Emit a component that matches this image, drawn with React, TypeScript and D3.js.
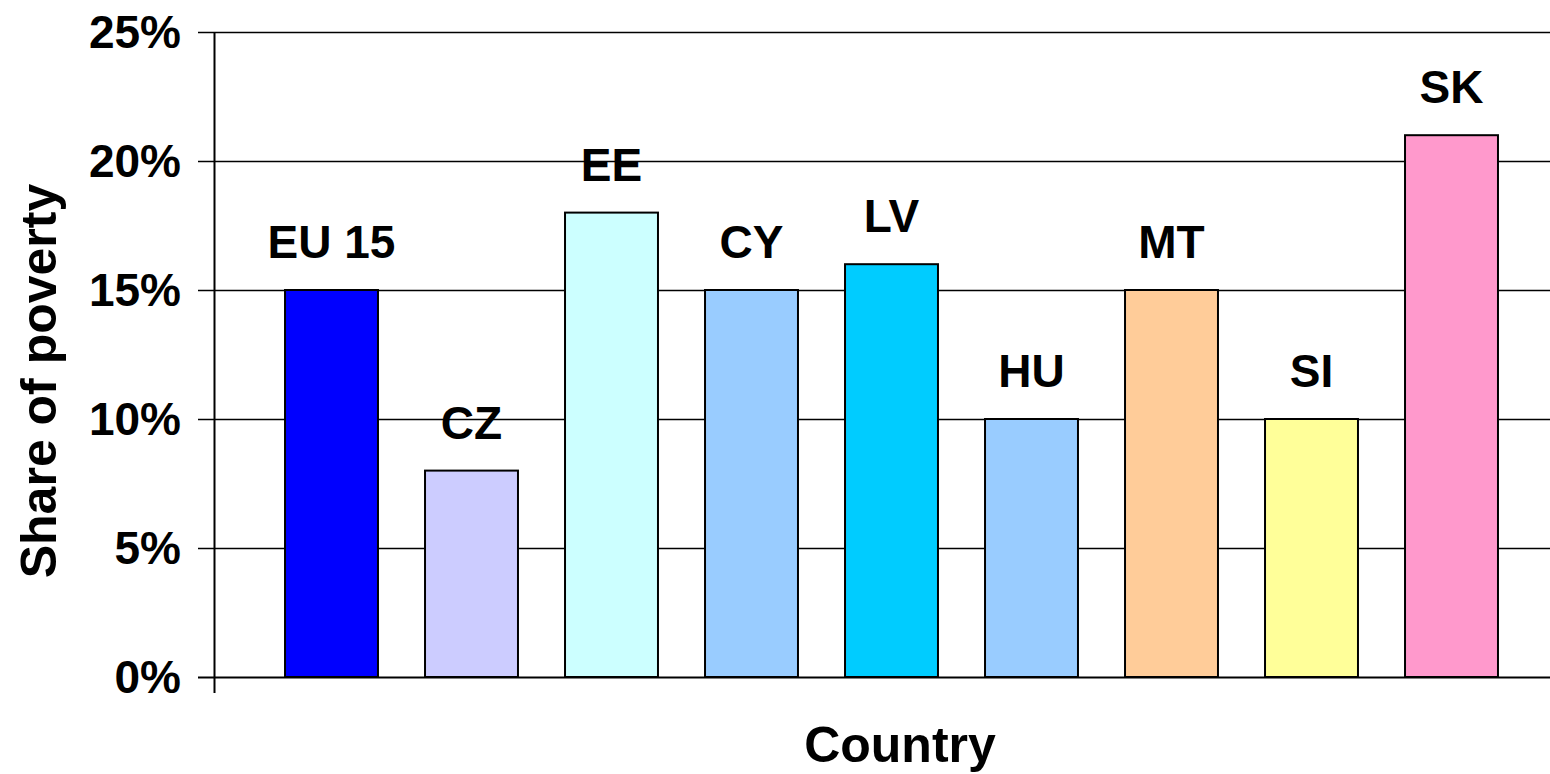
import React from "react";
import * as d3 from "d3";

const countries = ["EU 15", "CZ", "EE", "CY", "LV", "HU", "MT", "SI", "SK"];
const shares = [15, 8, 18, 15, 16, 10, 15, 10, 21];
const colors = ["#0000FF", "#CCCCFF", "#CCFFFF", "#99CCFF", "#00CCFF", "#99CCFF", "#FFCC99", "#FFFF99", "#FF99CC"];
const yTicks = [0, 5, 10, 15, 20, 25];

const W = 1550;
const H = 774;
const FONT = "'Liberation Sans', Arial, sans-serif";

export default function App() {
  const plotLeft = 214.5;
  const y = d3.scaleLinear().domain([0, 25]).range([677, 32]);
  const x = d3
    .scaleBand<string>()
    .domain(countries)
    .range([261.5, 1521.5])
    .paddingInner(0.336)
    .paddingOuter(0.168);

  return (
    <svg
      width={W}
      height={H}
      style={{ position: "absolute", left: 0, top: 0, background: "#fff" }}
      fontFamily={FONT}
    >
      {/* gridlines */}
      {yTicks.map((t) => (
        <line
          key={"g" + t}
          x1={198}
          x2={W}
          y1={Math.round(y(t)) + 0.5}
          y2={Math.round(y(t)) + 0.5}
          stroke="#000"
          strokeWidth={t === 0 ? 2 : 1.5}
        />
      ))}
      {/* y axis */}
      <line x1={plotLeft} x2={plotLeft} y1={y(25)} y2={693} stroke="#000" strokeWidth={2} />
      {yTicks.map((t) => (
        <text
          key={"t" + t}
          x={181}
          y={y(t)}
          dy="0.35em"
          textAnchor="end"
          fontSize={46}
          fontWeight="bold"
        >
          {t + "%"}
        </text>
      ))}
      {/* bars */}
      {countries.map((c, i) => (
        <g key={c}>
          <rect
            x={x(c)!}
            y={y(shares[i])}
            width={x.bandwidth()}
            height={y(0) - y(shares[i])}
            fill={colors[i]}
            stroke="#000"
            strokeWidth={2}
          />
          <text
            x={x(c)! + x.bandwidth() / 2}
            y={y(shares[i]) - 32}
            textAnchor="middle"
            fontSize={46}
            fontWeight="bold"
          >
            {c}
          </text>
        </g>
      ))}
      {/* axis titles */}
      <text x={900} y={762} textAnchor="middle" fontSize={50} fontWeight="bold">
        Country
      </text>
      <text
        transform={`translate(56, ${381}) rotate(-90)`}
        textAnchor="middle"
        fontSize={50}
        fontWeight="bold"
      >
        Share of poverty
      </text>
    </svg>
  );
}
